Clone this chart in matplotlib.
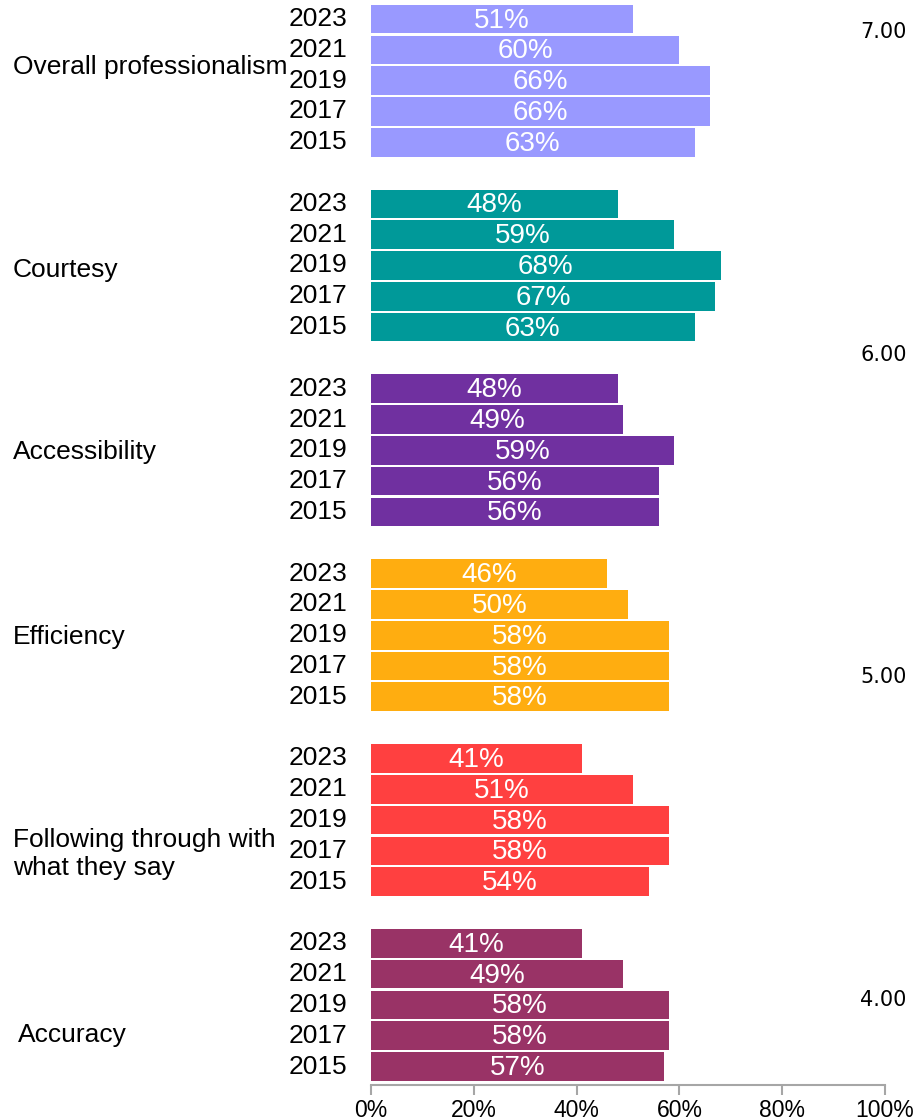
import numpy as np
import matplotlib.pyplot as plt

# Data
categories = ["Overall professionalism", "Courtesy", "Accessibility", "Efficiency",
              "Following through with\nwhat they say", "Accuracy"]
years = ["2023", "2021", "2019", "2017", "2015"]
overall = [51, 60, 66, 66, 63]
courtesy = [48, 59, 68, 67, 63]
accessibility = [48, 49, 59, 56, 56]
efficiency = [46, 50, 58, 58, 58]
following = [41, 51, 58, 58, 54]
accuracy = [41, 49, 58, 58, 57]
values = [overall, courtesy, accessibility, efficiency, following, accuracy]
right_ticks = [4, 5, 6, 7]

colors = ["#9999FF", "#009999", "#7030A0", "#FFAD10", "#FF4040", "#993366"]
label_offset = [1.56, 2.15, 2.06, 2.06, 3.1, 2.99]
label_x = [13, 13, 13, 13, 13, 18]

FONT = "Liberation Sans"

fig = plt.figure(figsize=(9.13, 11.2), dpi=100)
ax = fig.add_axes([371/913, 1 - 1085/1120, (885-371)/913, (1085-3)/1120])

for g, vals in enumerate(values):
    ys = g * 6 + np.arange(len(years))
    ax.barh(ys, vals, height=0.93, color=colors[g])
    for y, v, yr in zip(ys, vals, years):
        ax.text(v / 2, y + 0.05, f"{v}%", color="white", ha="center", va="center",
                fontsize=20, family=FONT)
        ax.text(-24 / 5.14, y, yr, ha="right", va="center", fontsize=19,
                family=FONT, clip_on=False)
    ax.text(-358 / 5.14 + (label_x[g] - 13) / 5.14, g * 6 + label_offset[g],
            categories[g], ha="left", va="center", fontsize=19, family=FONT,
            linespacing=1.25, clip_on=False)

ax.set_xlim(0, 100)
ax.set_ylim(34.6, -0.52)
ax.set_xticks(np.arange(0, 101, 20))
ax.set_xticklabels([f"{t}%" for t in range(0, 101, 20)], fontsize=16.5, family=FONT)
ax.set_yticks([])
for s in ["top", "right", "left"]:
    ax.spines[s].set_visible(False)
ax.spines["bottom"].set_color("#A6A6A6")
ax.spines["bottom"].set_linewidth(1.5)
ax.tick_params(axis="x", colors="#A6A6A6", labelcolor="black", length=7, width=1.5, pad=3)

ax2 = ax.twinx()
ax2.set_ylim(3.730, 7.084)
ax2.set_yticks(right_ticks)
ax2.set_yticklabels([f"{t:.2f}" for t in right_ticks], fontsize=15, family="DejaVu Sans")
ax2.tick_params(axis="y", length=0, pad=-18)
for s in ax2.spines.values():
    s.set_visible(False)

fig.savefig("out.png", dpi=100)
